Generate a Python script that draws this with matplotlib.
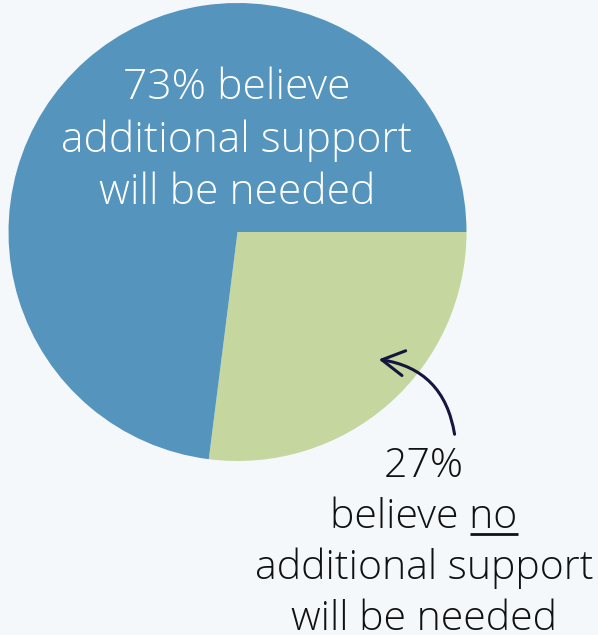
import matplotlib
matplotlib.use("Agg")
import matplotlib.pyplot as plt
from matplotlib.patches import FancyArrowPatch

# data
shares     = [27, 73]
colors     = ['#C5D79F', '#5594BD']
top_lines  = ['73% believe', 'additional support', 'will be needed']
bot_lines  = ['27%', 'believe no', 'additional support', 'will be needed']
underlined = 'no'

W, H = 598, 635
bg = '#F4F8FB'

fig = plt.figure(figsize=(W / 100, H / 100), dpi=100, facecolor=bg)
ax = fig.add_axes([0, 0, 1, 1])
ax.set_facecolor(bg)

# pie (pixel frame, y up)
ax.pie(shares, colors=colors, startangle=0, counterclock=False,
       center=(237.5, H - 232), radius=229, frame=True,
       wedgeprops=dict(linewidth=0))
ax.set_xlim(0, W)
ax.set_ylim(0, H)
ax.axis('off')

font = dict(family=['Open Sans', 'DejaVu Sans'], weight='light')
top_fs, bot_fs = 30.7, 29.5

# label inside blue wedge
for i, line in enumerate(top_lines):
    ax.text(237, H - 99 - i * 52.5, line, ha='center', va='baseline',
            color='white', fontsize=top_fs, **font)

# label outside, below green wedge
txts = []
for i, line in enumerate(bot_lines):
    t = ax.text(424, H - 477 - i * 51, line, ha='center', va='baseline',
                color='#111111', fontsize=bot_fs, **font)
    txts.append(t)

# underline "no"
r = fig.canvas.get_renderer()
bb = txts[1].get_window_extent(r)
tmp = ax.text(0, 0, underlined, fontsize=bot_fs, **font)
wn = tmp.get_window_extent(r).width
tmp.remove()
base = H - 477 - 51
ax.plot([bb.x1 - wn, bb.x1], [base - 6, base - 6], color='#111111', lw=2, solid_capstyle='butt')

# curved arrow
arr = FancyArrowPatch((455, H - 437), (376, H - 359),
                      connectionstyle='arc3,rad=0.38',
                      arrowstyle='->,head_length=0.8,head_width=0.45',
                      mutation_scale=20, color='#15153D', lw=2.2)
ax.add_patch(arr)

fig.savefig('out.png', dpi=100, facecolor=bg)
